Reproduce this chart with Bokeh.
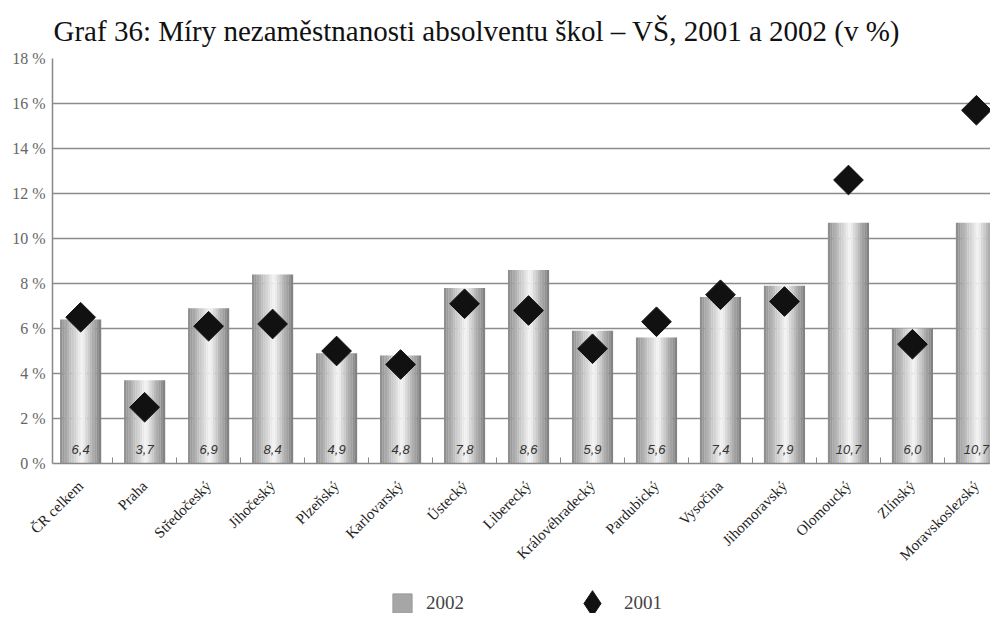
import math
import numpy as np
from bokeh.plotting import figure
from bokeh.layouts import column
from bokeh.models import ColumnDataSource, FixedTicker, Range1d, Legend, LegendItem
from bokeh.core.properties import value
from bokeh.embed import file_html
from bokeh.resources import INLINE

# ---------------- data ----------------
regions = ["ČR celkem", "Praha", "Středočeský", "Jihočeský", "Plzeňský", "Karlovarský",
           "Ústecký", "Liberecký", "Královéhradecký", "Pardubický", "Vysočina",
           "Jihomoravský", "Olomoucký", "Zlínský", "Moravskoslezský"]
rate_2002 = [6.4, 3.7, 6.9, 8.4, 4.9, 4.8, 7.8, 8.6, 5.9, 5.6, 7.4, 7.9, 10.7, 6.0, 10.7]
rate_2001 = [6.5, 2.5, 6.1, 6.2, 5.0, 4.4, 7.1, 6.8, 5.1, 6.3, 7.5, 7.2, 12.6, 5.3, 15.7]
labels_2002 = ["6,4", "3,7", "6,9", "8,4", "4,9", "4,8", "7,8", "8,6", "5,9", "5,6",
               "7,4", "7,9", "10,7", "6,0", "10,7"]
y_ticks = [0, 2, 4, 6, 8, 10, 12, 14, 16, 18]
y_tick_labels = ["0 %", "2 %", "4 %", "6 %", "8 %", "10 %", "12 %", "14 %", "16 %", "18 %"]
title_text = "Graf 36: Míry nezaměstnanosti absolventu škol – VŠ, 2001 a 2002 (v %)"
series_names = ["2002", "2001"]

SERIF = "Liberation Serif"
BAR_GRAY = "#a6a6a6"
DIAMOND = "#111111"

xs = np.arange(len(regions))

p = figure(width=990, height=578, output_backend="svg", toolbar_location=None,
           x_range=Range1d(-0.44, 14.22), y_range=Range1d(0, 18),
           min_border_left=52, min_border_right=0, min_border_top=58,
           min_border_bottom=115)
p.outline_line_color = None
p.background_fill_color = "white"
p.border_fill_color = "white"

p.title.text = title_text
p.title.text_font = SERIF
p.title.text_font_size = "29px"
p.title.text_font_style = "normal"
p.title.text_color = "#111111"
p.title.offset = 1
p.title.standoff = 24

# grid
p.xgrid.grid_line_color = None
p.ygrid.ticker = FixedTicker(ticks=y_ticks)
p.ygrid.grid_line_color = "#8c8c8c"
p.ygrid.grid_line_width = 1.5

# y axis
p.yaxis.ticker = FixedTicker(ticks=y_ticks)
p.yaxis.major_label_overrides = {t: l for t, l in zip(y_ticks, y_tick_labels)}
p.yaxis.major_label_text_font = SERIF
p.yaxis.major_label_text_font_size = "16px"
p.yaxis.major_label_text_color = "#666666"
p.yaxis.major_tick_in = 0
p.yaxis.major_tick_out = 0
p.yaxis.minor_tick_in = 0
p.yaxis.minor_tick_out = 0
p.yaxis.axis_line_color = "#888888"
p.yaxis.axis_line_width = 1.5
p.yaxis.major_label_standoff = 7

# x axis
p.xaxis.ticker = FixedTicker(ticks=list(xs), minor_ticks=list(xs + 0.5))
p.xaxis.major_label_overrides = {int(i): r for i, r in zip(xs, regions)}
p.xaxis.major_label_orientation = math.pi / 4
p.xaxis.major_label_text_font = SERIF
p.xaxis.major_label_text_font_size = "15px"
p.xaxis.major_label_text_color = "#222222"
p.xaxis.major_tick_in = 0
p.xaxis.major_tick_out = 0
p.xaxis.minor_tick_in = 6
p.xaxis.minor_tick_out = 0
p.xaxis.minor_tick_line_color = "#888888"
p.xaxis.axis_line_color = "#888888"
p.xaxis.axis_line_width = 1.5
p.xaxis.major_label_standoff = 20

# bars as cylinder-like gradient made of thin slices
bar_w = 0.64
n_sl = 18
sl_w = bar_w / n_sl
peak = 0.55
for i in range(n_sl):
    t = (i + 0.5) / n_sl
    if t < peak:
        d = (peak - t) / peak
        g = int(246 - (246 - 138) * d ** 1.1)
    else:
        d = (t - peak) / (1 - peak)
        g = int(246 - (246 - 125) * d ** 0.9)
    col = "#%02x%02x%02x" % (g, g, g)
    off = -bar_w / 2 + (i + 0.5) * sl_w
    src = ColumnDataSource(dict(x=xs + off, top=rate_2002))
    p.vbar(x="x", top="top", width=sl_w * 1.08, bottom=0, source=src,
           fill_color=col, line_color=None)

# value labels inside bars
lab_src = ColumnDataSource(dict(x=xs, y=np.zeros(len(xs)), t=labels_2002))
p.text(x="x", y="y", text="t", source=lab_src, y_offset=-14,
       text_font=value("Liberation Sans"), text_font_size="13px", text_font_style="italic",
       text_color="#333333", text_align="center", text_baseline="middle")

# diamonds for 2001
dia_src = ColumnDataSource(dict(x=xs, y=rate_2001))
p.scatter(x="x", y="y", source=dia_src, marker="square", angle=math.pi / 4,
          size=21, fill_color=DIAMOND, line_color=DIAMOND)

# ---------------- legend strip ----------------
lg = figure(width=990, height=35, output_backend="svg", toolbar_location=None,
            x_axis_location=None, y_axis_location=None,
            min_border_left=0, min_border_right=0, min_border_top=0, min_border_bottom=0)
lg.outline_line_color = None
lg.xgrid.grid_line_color = None
lg.ygrid.grid_line_color = None
lg_src = ColumnDataSource(dict(x=xs, y2002=rate_2002, y2001=rate_2001))
sw_bar = lg.scatter(x="x", y="y2002", source=lg_src, marker="square", size=0,
                    fill_color=BAR_GRAY, line_color="#9a9a9a")
sw_dia = lg.scatter(x="x", y="y2001", source=lg_src, marker="diamond",
                    size=0, fill_color=DIAMOND, line_color=DIAMOND)
leg_a = Legend(items=[LegendItem(label=series_names[0], renderers=[sw_bar])],
               location=(326, -14), glyph_width=48, glyph_height=48,
               label_text_font=SERIF, label_text_font_size="19px",
               label_standoff=0, padding=0, margin=0,
               background_fill_alpha=0, border_line_color=None)
leg_b = Legend(items=[LegendItem(label=series_names[1], renderers=[sw_dia])],
               location=(508, -22), glyph_width=64, glyph_height=64,
               label_text_font=SERIF, label_text_font_size="19px",
               label_standoff=0, padding=0, margin=0,
               background_fill_alpha=0, border_line_color=None)
lg.add_layout(leg_a, "center")
lg.add_layout(leg_b, "center")

layout = column(p, lg, spacing=0)
open("out.html", "w").write(file_html(layout, INLINE))
